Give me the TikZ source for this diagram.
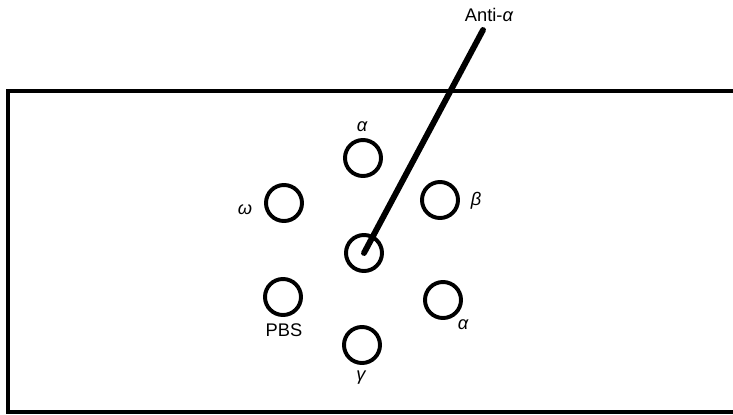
\documentclass[tikz,border=0pt]{standalone}
\usepackage{fontspec}
\setmainfont{Liberation Sans}
\usetikzlibrary{positioning}
\tikzset{
  well/.style  = {circle, draw=black, line width=2.8pt, minimum size=0.9cm, inner sep=0pt},
  lbl/.style   = {font=\fontsize{13}{15}\selectfont, inner sep=1pt},
  probe/.style = {line width=4.2pt, line cap=round},
  plate/.style = {line width=2.6pt},
}

\begin{document}
\begin{tikzpicture}[x=0.025cm, y=-0.025cm]
  \useasboundingbox (0,0) rectangle (733,415);

  % gel plate, open to the right
  \draw[plate] (733,91) -- (8,91) -- (8,412) -- (733,412);

  % wells
  \node[well] (top)   at (363,158) {};
  \node[well] (beta)  at (440,200) {};
  \node[well] (omega) at (284,203) {};
  \node[well] (mid)   at (364,253) {};
  \node[well] (pbs)   at (283,297) {};
  \node[well] (alpha) at (443,300) {};
  \node[well] (gamma) at (362,345) {};

  % well labels
  \node[lbl] (ltop)   at (362,127) {\itshape α};
  \node[lbl] (lbeta)  at (476,201) {\itshape β};
  \node[lbl] (lomega) at (245,210) {\itshape ω};
  \node[lbl] (lpbs)   at (284,330) {PBS};
  \node[lbl] (lalpha) at (463,325) {\itshape α};
  \node[lbl] (lgamma) at (361,378) {\itshape γ};

  % antiserum trough
  \node[lbl] (anti) at (489,15) {Anti-{\itshape α}};
  \coordinate (tip) at (483,30);
  \draw[probe] (tip) -- (mid.center);
\end{tikzpicture}
\end{document}
